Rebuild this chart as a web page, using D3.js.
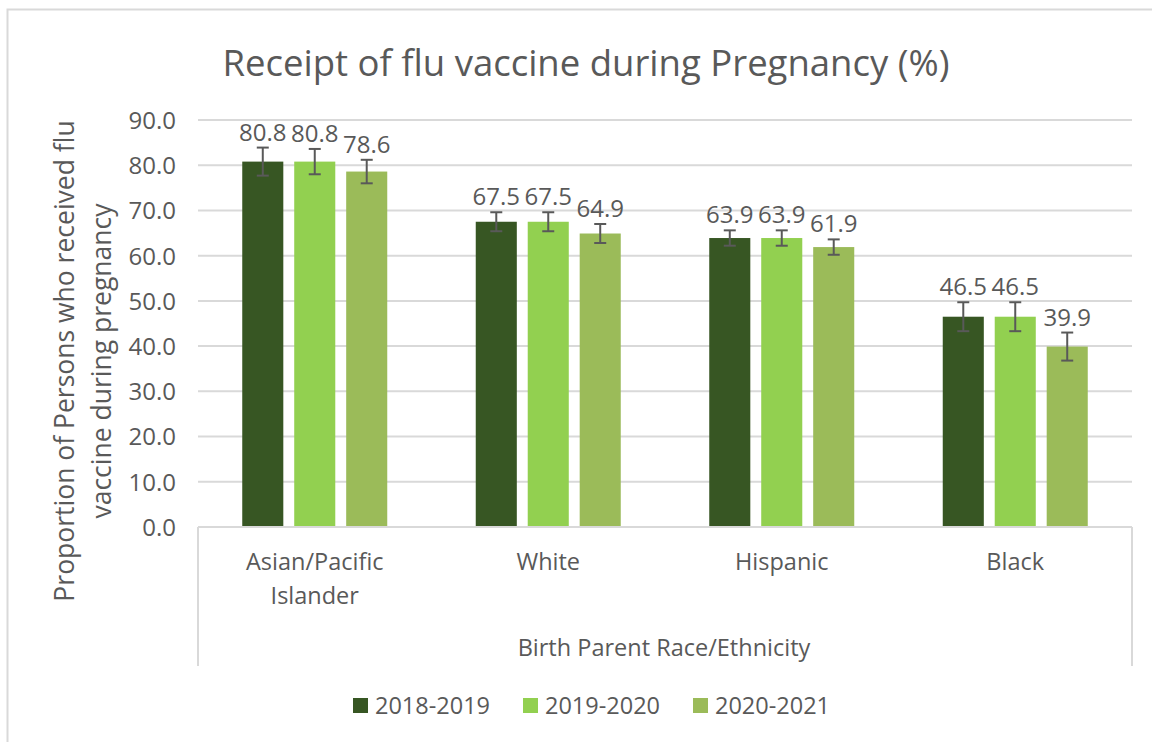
<!DOCTYPE html>
<html>
<head>
<meta charset="utf-8">
<script src="https://cdn.jsdelivr.net/npm/d3@7"></script>
<style>
  body { margin: 0; background: #fff; }
  text { font-family: "Open Sans", sans-serif; fill: #595959; }
</style>
</head>
<body>
<svg id="chart" width="1152" height="742"></svg>
<script>
var categories = ["Asian/Pacific Islander", "White", "Hispanic", "Black"];
var seasons = ["2018-2019", "2019-2020", "2020-2021"];
var values2018 = [80.8, 67.5, 63.9, 46.5];
var values2019 = [80.8, 67.5, 63.9, 46.5];
var values2020 = [78.6, 64.9, 61.9, 39.9];
var errors2018 = [3.1, 2.1, 1.7, 3.2];
var errors2019 = [2.8, 2.1, 1.7, 3.2];
var errors2020 = [2.6, 2.1, 1.7, 3.1];
var yTicks = [0, 10, 20, 30, 40, 50, 60, 70, 80, 90];
var colors = ["#375623", "#92d050", "#9bbb59"];

var allValues = [values2018, values2019, values2020];
var allErrors = [errors2018, errors2019, errors2020];

var marge = {haut: 120, droite: 1132, bas: 527, gauche: 198};

var svg = d3.select("#chart");

// cadre du graphique
svg.append("rect")
    .attr("x", 7.5).attr("y", 9.5)
    .attr("width", 1158).attr("height", 760)
    .style("fill", "none")
    .style("stroke", "#d9d9d9")
    .style("stroke-width", 2);

var yScale = d3.scaleLinear().domain([0, 90]).range([marge.bas, marge.haut]);
var xScale = d3.scaleBand().domain(categories).range([marge.gauche, marge.droite]);
var xInner = d3.scaleBand().domain(seasons)
    .range([xScale.bandwidth() / 2 - 72.5, xScale.bandwidth() / 2 + 72.5])
    .paddingInner(0.21)
    .paddingOuter(0);

// grille
svg.append("g")
    .selectAll("line")
    .data(yTicks.filter(d => d > 0))
    .enter()
    .append("line")
    .attr("x1", marge.gauche)
    .attr("x2", marge.droite)
    .attr("y1", d => yScale(d))
    .attr("y2", d => yScale(d))
    .style("stroke", "#d9d9d9")
    .style("stroke-width", 2);

// axe y
var yAxis = g => g
    .attr("transform", `translate(${marge.gauche - 22},0)`)
    .call(d3.axisLeft(yScale).tickValues(yTicks).tickFormat(d3.format(".1f")).tickSize(0).tickPadding(0))
    .call(g => g.select(".domain").remove())
    .call(g => g.selectAll("text").style("font-size", "24px").style("fill", "#595959").attr("dy", "0.35em"));
svg.append("g").call(yAxis);

// barres
seasons.forEach(function(s, j) {
    var rows = categories.map((c, i) => ({cat: c, v: allValues[j][i], e: allErrors[j][i]}));
    var bar = svg.append("g")
        .selectAll("g")
        .data(rows)
        .enter()
        .append("g")
        .attr("transform", d => `translate(${xScale(d.cat) + xInner(s)},0)`);

    bar.append("rect")
        .attr("x", 0)
        .attr("y", d => yScale(d.v))
        .attr("width", xInner.bandwidth())
        .attr("height", d => yScale(0) - yScale(d.v))
        .style("fill", colors[j]);

    var cx = xInner.bandwidth() / 2;
    bar.append("line")
        .attr("x1", cx).attr("x2", cx)
        .attr("y1", d => yScale(d.v + d.e))
        .attr("y2", d => yScale(d.v - d.e))
        .style("stroke", "#595959").style("stroke-width", 2);
    bar.append("line")
        .attr("x1", cx - 6).attr("x2", cx + 6)
        .attr("y1", d => yScale(d.v + d.e))
        .attr("y2", d => yScale(d.v + d.e))
        .style("stroke", "#595959").style("stroke-width", 2);
    bar.append("line")
        .attr("x1", cx - 6).attr("x2", cx + 6)
        .attr("y1", d => yScale(d.v - d.e))
        .attr("y2", d => yScale(d.v - d.e))
        .style("stroke", "#595959").style("stroke-width", 2);

    bar.append("text")
        .attr("x", cx)
        .attr("y", d => yScale(d.v + d.e) - 7)
        .style("text-anchor", "middle")
        .style("font-size", "24px")
        .text(d => d3.format(".1f")(d.v));
});

// axe x
svg.append("line")
    .attr("x1", marge.gauche).attr("x2", marge.droite)
    .attr("y1", marge.bas).attr("y2", marge.bas)
    .style("stroke", "#d9d9d9").style("stroke-width", 2);
[marge.gauche, marge.droite].forEach(function(x) {
    svg.append("line")
        .attr("x1", x).attr("x2", x)
        .attr("y1", marge.bas).attr("y2", 666)
        .style("stroke", "#d9d9d9").style("stroke-width", 2);
});

svg.append("g")
    .selectAll("text")
    .data(categories)
    .enter()
    .append("text")
    .attr("x", d => xScale(d) + xScale.bandwidth() / 2)
    .attr("y", 570)
    .style("text-anchor", "middle")
    .style("font-size", "23.5px")
    .each(function(d) {
        var lines = d === "Asian/Pacific Islander" ? ["Asian/Pacific", "Islander"] : [d];
        var t = d3.select(this);
        lines.forEach((l, k) => t.append("tspan")
            .attr("x", xScale(d) + xScale.bandwidth() / 2)
            .attr("dy", k === 0 ? 0 : 34)
            .text(l));
    });

svg.append("text")
    .attr("x", 664)
    .attr("y", 656)
    .style("text-anchor", "middle")
    .style("font-size", "23.5px")
    .text("Birth Parent Race/Ethnicity");

// titre de l'axe y
var yTitle = svg.append("text")
    .attr("transform", "translate(0,361) rotate(-90)")
    .style("text-anchor", "middle")
    .style("font-size", "26.5px");
yTitle.append("tspan").attr("x", 0).attr("y", 74).text("Proportion of Persons who received flu");
yTitle.append("tspan").attr("x", 0).attr("y", 111).text("vaccine during pregnancy");

// titre
svg.append("text")
    .attr("x", 586)
    .attr("y", 76)
    .style("text-anchor", "middle")
    .style("font-size", "36.5px")
    .text("Receipt of flu vaccine during Pregnancy (%)");

// légende
var legendX = [353, 523, 693];
var legend = svg.append("g")
    .selectAll("g")
    .data(seasons)
    .enter()
    .append("g")
    .attr("transform", (d, i) => `translate(${legendX[i]},698)`);
legend.append("rect")
    .attr("width", 15).attr("height", 15)
    .style("fill", (d, i) => colors[i]);
legend.append("text")
    .attr("x", 22)
    .attr("y", 16)
    .style("font-size", "23.5px")
    .text(d => d);
</script>
</body>
</html>
